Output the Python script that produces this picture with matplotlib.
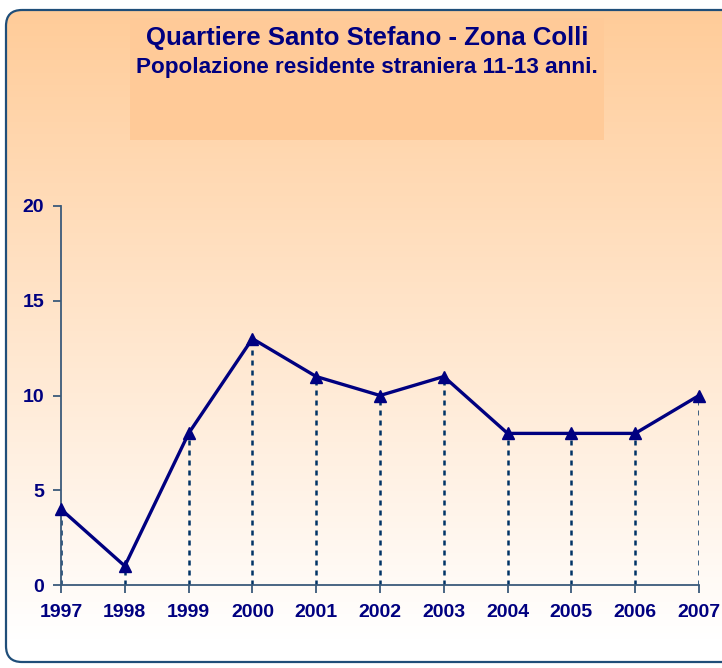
import numpy as np
import matplotlib.pyplot as plt
from matplotlib.patches import FancyBboxPatch, Rectangle

years = [1997, 1998, 1999, 2000, 2001, 2002, 2003, 2004, 2005, 2006, 2007]
values = [4, 1, 8, 13, 11, 10, 11, 8, 8, 8, 10]
yticks = [0, 5, 10, 15, 20]

title = 'Quartiere Santo Stefano - Zona Colli'
subtitle = 'Popolazione residente straniera 11-13 anni.'

navy = '#000080'
W, H = 722, 668

plt.rcParams['font.family'] = ['Liberation Sans', 'DejaVu Sans']

fig = plt.figure(figsize=(W / 100, H / 100), dpi=100)

# background: rounded frame with vertical peach -> white gradient
bg = fig.add_axes([0, 0, 1, 1])
bg.set_xlim(0, W)
bg.set_ylim(H, 0)
bg.axis('off')
grad = np.linspace(0, 1, 256)[:, None]
top = np.array([255, 204, 153]) / 255
bot = np.array([255, 255, 255]) / 255
img = top[None, None, :] * (1 - grad[:, :, None]) + bot[None, None, :] * grad[:, :, None]
frame = FancyBboxPatch((6, 10), W + 30, 652, boxstyle='round,pad=0,rounding_size=16',
                       facecolor='none', edgecolor='#1F4E79', linewidth=1.6, zorder=3)
bg.add_patch(frame)
im = bg.imshow(img, extent=(6, W + 36, 640, 10), aspect='auto', zorder=1)
im.set_clip_path(frame)

# title box
bg.add_patch(Rectangle((130, 18), 474, 122, facecolor='#FFCA98', edgecolor='none', zorder=2))
bg.text(367, 38, title, ha='center', va='center', fontsize=18.5, fontweight='bold', color=navy, zorder=4)
bg.text(367, 68, subtitle, ha='center', va='center', fontsize=16.2, fontweight='bold', color=navy, zorder=4)

# chart
ax = fig.add_axes([61 / W, 1 - 585 / H, (699 - 61) / W, (585 - 206) / H])
ax.patch.set_alpha(0)
ax.vlines(years, 0, values, colors='#003366', linestyles=(0, (2, 2)), linewidth=1.8, zorder=2)
ax.plot(years, values, color=navy, linewidth=2.4, marker='^', markersize=9, zorder=3, clip_on=False)

ax.set_xlim(years[0], years[-1])
ax.set_ylim(0, 20)
ax.set_xticks(years)
ax.set_yticks(yticks)
for s in ['top', 'right']:
    ax.spines[s].set_visible(False)
for s in ['left', 'bottom']:
    ax.spines[s].set_color('#3A5A7A')
    ax.spines[s].set_linewidth(1.3)
ax.tick_params(axis='both', colors='#3A5A7A', length=6, width=1.3, labelcolor=navy, labelsize=14)
ax.tick_params(axis='x', pad=8)
ax.tick_params(axis='y', pad=6)
for lab in ax.get_xticklabels() + ax.get_yticklabels():
    lab.set_fontweight('bold')

fig.savefig('out.png', dpi=100)
